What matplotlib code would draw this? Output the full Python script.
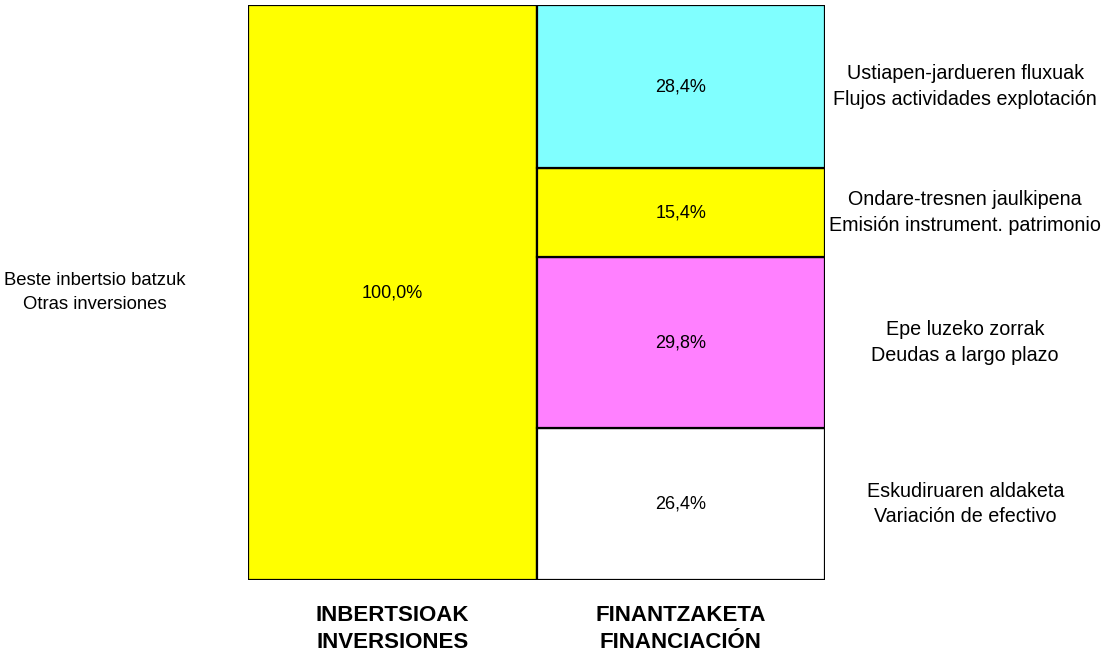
import matplotlib.pyplot as plt
import matplotlib.transforms as mtransforms

plt.rcParams['font.family'] = ['Liberation Sans Narrow', 'Liberation Sans', 'DejaVu Sans']

# data
columns = ['INBERTSIOAK\nINVERSIONES', 'FINANTZAKETA\nFINANCIACIÓN']
inv_labels = ['Beste inbertsio batzuk\nOtras inversiones']
inv_values = [100.0]
fin_labels = [
    'Eskudiruaren aldaketa\nVariación de efectivo',
    'Epe luzeko zorrak\nDeudas a largo plazo',
    'Ondare-tresnen jaulkipena\nEmisión instrument. patrimonio',
    'Ustiapen-jardueren fluxuak\nFlujos actividades explotación',
]
fin_values = [26.4, 29.8, 15.4, 28.4]

inv_colors = ['#FFFF00']
fin_colors = ['#FFFFFF', '#FF80FF', '#FFFF00', '#80FFFF']


def pct(v):
    return f"{v:.1f}%".replace('.', ',')


fig = plt.figure(figsize=(11.11, 6.58), dpi=100)
ax = fig.add_axes([248 / 1111, 1 - 580 / 658, 577 / 1111, 575 / 658])

trans_left = mtransforms.blended_transform_factory(ax.transAxes, ax.transData)

bottom = 0
for lab, val, col in zip(inv_labels, inv_values, inv_colors):
    ax.bar(0, val, width=1, bottom=bottom, color=col, edgecolor='black', linewidth=1.6)
    ax.text(0, bottom + val / 2, pct(val), ha='center', va='center', fontsize=13)
    ax.text(-0.265, bottom + val / 2, lab, ha='center', va='center', fontsize=13.3,
            transform=trans_left, linespacing=1.55)
    bottom += val

bottom = 0
for lab, val, col in zip(fin_labels, fin_values, fin_colors):
    ax.bar(1, val, width=1, bottom=bottom, color=col, edgecolor='black', linewidth=1.6)
    ax.text(1, bottom + val / 2, pct(val), ha='center', va='center', fontsize=13)
    ax.text(1.243, bottom + val / 2, lab, ha='center', va='center', fontsize=14.2,
            transform=trans_left, linespacing=1.45)
    bottom += val

ax.set_xlim(-0.5, 1.5)
ax.set_ylim(0, 100)
ax.set_xticks([0, 1])
ax.set_xticklabels(columns, fontsize=16, fontweight='bold', linespacing=1.35)
ax.tick_params(axis='x', length=0, pad=18)
ax.set_yticks([])
for s in ax.spines.values():
    s.set_visible(False)

fig.savefig('out.png', dpi=100)
